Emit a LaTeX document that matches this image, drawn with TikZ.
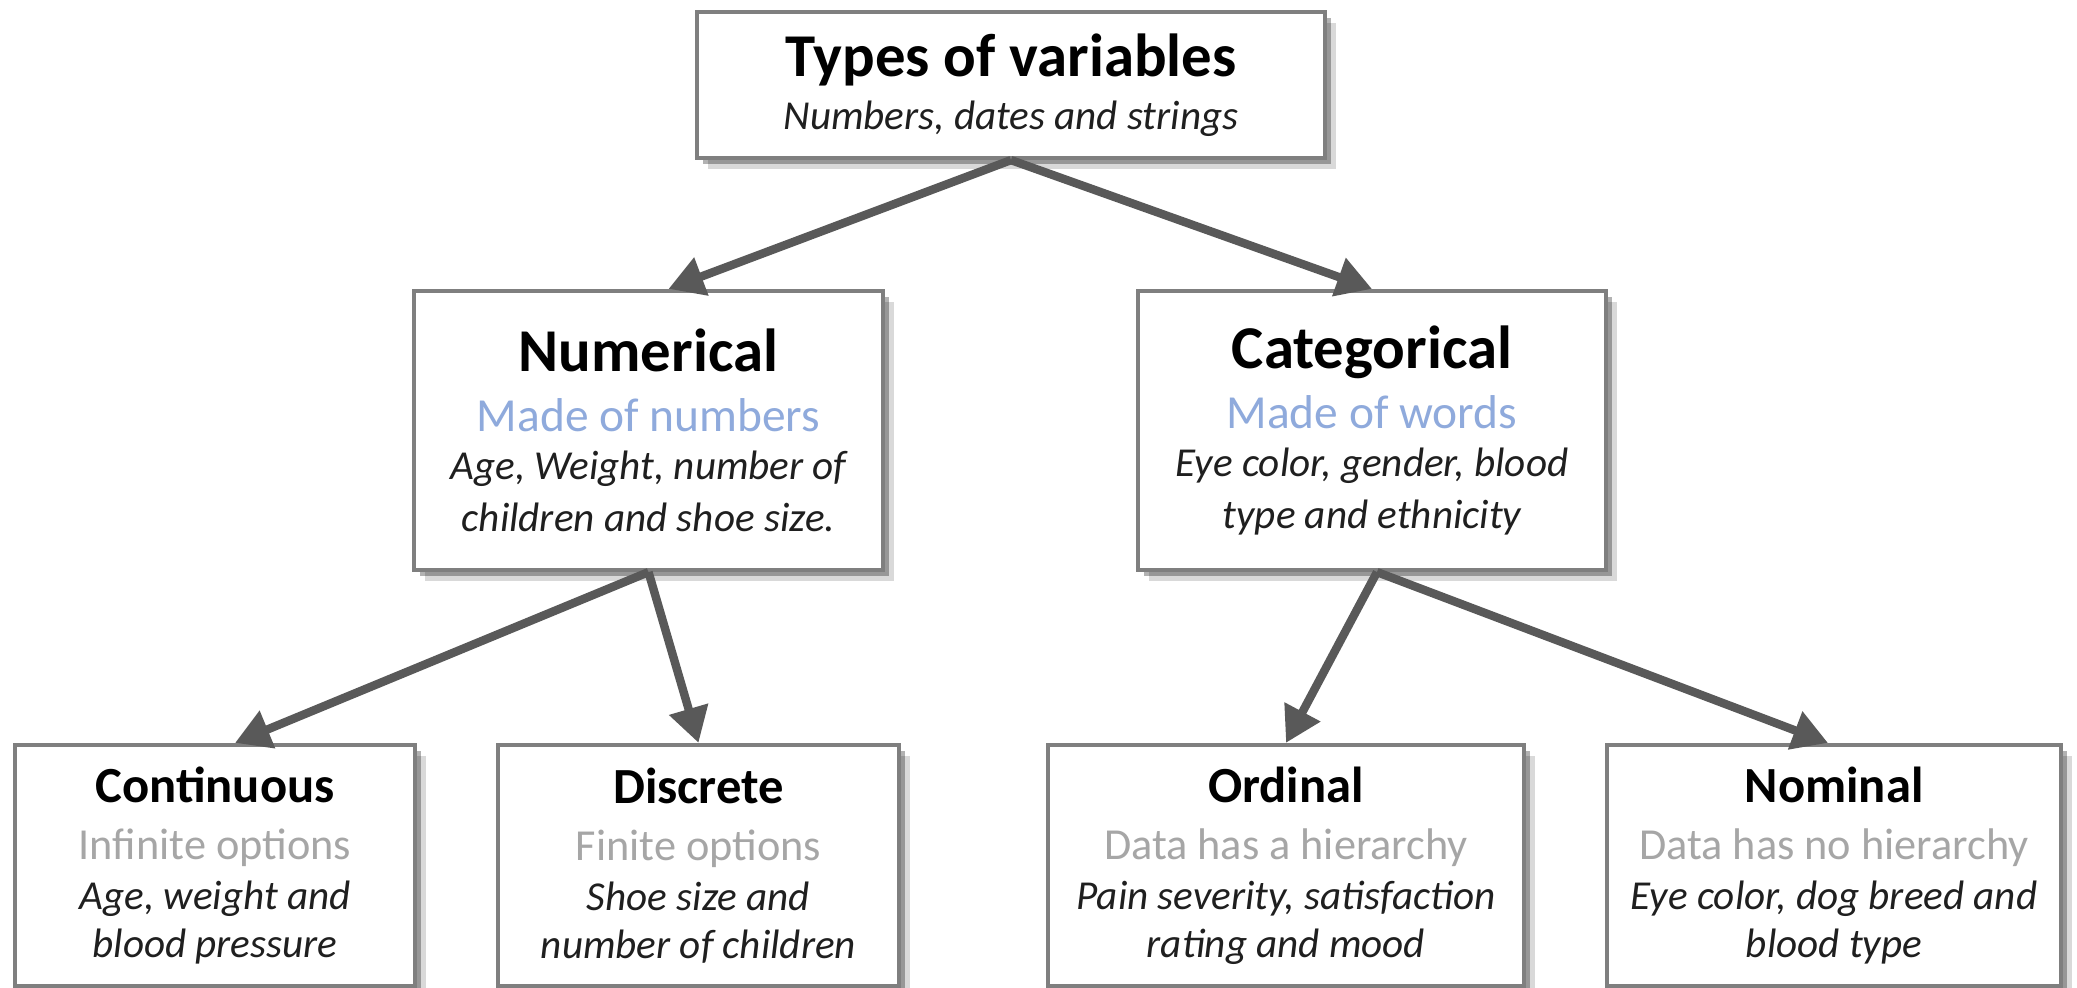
\documentclass[tikz,border=0pt]{standalone}
\usepackage{fontspec}
\setmainfont{Carlito}
\usetikzlibrary{arrows.meta,shadows}

\definecolor{boxline}{HTML}{7F7F7F}
\definecolor{arrowgray}{HTML}{595959}
\definecolor{madeblue}{HTML}{8FAADC}
\definecolor{optgray}{HTML}{A6A6A6}
\definecolor{exblack}{HTML}{1F1F1F}

\newcommand{\bighead}[1]{{\fontsize{17.3}{20}\selectfont\bfseries #1}}
\newcommand{\smallhead}[1]{{\fontsize{14.4}{17}\selectfont\bfseries #1}}
\newcommand{\madeof}[1]{{\fontsize{13.5}{16}\selectfont\color{madeblue}#1}}
\newcommand{\options}[1]{{\fontsize{12.6}{15}\selectfont\color{optgray}#1}}
\newcommand{\examples}[1]{{\itshape\color{exblack}#1}}

\begin{document}
\begin{tikzpicture}[
    varbox/.style ={rectangle, draw=boxline, line width=1.2pt, fill=white, align=center, inner sep=0pt,
      drop shadow={shadow xshift=0.11cm, shadow yshift=-0.11cm, opacity=0.15, fill=black},
      drop shadow={shadow xshift=0.06cm, shadow yshift=-0.06cm, opacity=0.30, fill=black},
      font=\fontsize{11.7}{14.5}\selectfont},
    link/.style ={draw=arrowgray, line width=2.4pt, -{Triangle[length=10pt,width=11pt]}}]
   \useasboundingbox (0,0) rectangle (20.77,-9.88);
   \node[varbox, minimum width=6.28cm, minimum height=1.46cm] (types) at (10.11,-0.85)
     {\bighead{Types of variables}\\[0.6pt] \examples{Numbers, dates and strings}};
   \node[varbox, minimum width=4.69cm, minimum height=2.79cm] (num) at (6.485,-4.305)
     {\bighead{Numerical}\\[2.6pt] \madeof{Made of numbers}\\[-1pt]
      \examples{Age, Weight, number of}\\[0.3pt] \examples{children and shoe size.}};
   \node[varbox, minimum width=4.68cm, minimum height=2.79cm] (cat) at (13.72,-4.305)
     {\bighead{Categorical}\\[2.6pt] \madeof{Made of words}\\[-1pt]
      \examples{Eye color, gender, blood}\\[0.3pt] \examples{type and ethnicity}};
   \node[varbox, minimum width=4.00cm, minimum height=2.41cm] (cont) at (2.15,-8.655)
     {\smallhead{Continuous}\\[1.7pt] \options{Infinite options}\\[-0.3pt]
      \examples{Age, weight and}\\[-0.8pt] \examples{blood pressure}};
   \node[varbox, minimum width=4.01cm, minimum height=2.41cm] (disc) at (6.985,-8.655)
     {\smallhead{Discrete}\\[1.7pt] \options{Finite options}\\[-0.3pt]
      \examples{Shoe size and}\\[-0.8pt] \examples{number of children}};
   \node[varbox, minimum width=4.76cm, minimum height=2.41cm] (ord) at (12.86,-8.655)
     {\smallhead{Ordinal}\\[1.7pt] \options{Data has a hierarchy}\\[-0.3pt]
      \examples{Pain severity, satisfaction}\\[-0.8pt] \examples{rating and mood}};
   \node[varbox, minimum width=4.54cm, minimum height=2.41cm] (nom) at (18.34,-8.655)
     {\smallhead{Nominal}\\[1.7pt] \options{Data has no hierarchy}\\[-0.3pt]
      \examples{Eye color, dog breed and}\\[-0.8pt] \examples{blood type}};
   \draw[link] (types.south) to ([xshift=2mm]num.north);
   \draw[link] (types.south) to (cat.north);
   \draw[link] (num.south) to ([xshift=2mm]cont.north);
   \draw[link] (num.south) to (disc.north);
   \draw[link] ([xshift=0.5mm]cat.south) to (ord.north);
   \draw[link] ([xshift=0.5mm]cat.south) to ([xshift=-0.6mm]nom.north);
\end{tikzpicture}
\end{document}
